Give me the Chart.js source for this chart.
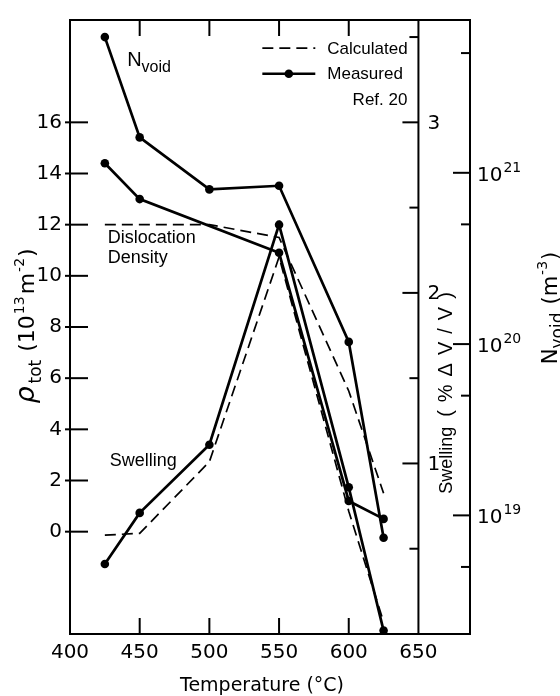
<!DOCTYPE html>
<html>
<head>
<meta charset="utf-8">
<script src="https://cdn.jsdelivr.net/npm/chart.js@4.4.0/dist/chart.umd.min.js"></script>
<style>
  html, body { margin: 0; padding: 0; background: #fff; }
</style>
</head>
<body>
<canvas id="chart" width="560" height="696"></canvas>
<script>
// temperature (°C)
const temps = [425, 450, 500, 550, 600, 625];
const tempsRho = [425, 450, 550, 600, 625];
// void number density N_void (m^-3), measured
const nVoidMeasured = [6.2e21, 1.61e21, 8.0e20, 8.4e20, 1.03e20, 7.4e18];
// dislocation density rho_tot (10^13 m^-2)
const rhoMeasured = [14.4, 13.0, 10.9, 1.2, 0.5];
const rhoCalculated = [12.0, 12.0, 12.0, 11.5, 5.5, 1.5];
// swelling (% dV/V)
const swellMeasured = [0.41, 0.71, 1.11, 2.40, 0.86, 0.02];
const swellCalculated = [0.58, 0.59, 1.01, 2.21, 0.72, 0.07];

// ticks
const tempTicks = [400, 450, 500, 550, 600, 650];
const rhoTicks = [0, 2, 4, 6, 8, 10, 12, 14, 16];
const swellTicks = [1, 2, 3];
const swellMinor = [0.5, 1.5, 2.5, 3.5];
const nVoidTicks = [1e19, 1e20, 1e21];
const nVoidExp = ['19', '20', '21'];
const nVoidMinor = [5e18, 5e19, 5e20, 5e21];

const NUM = '20px "DejaVu Sans"';
const TXT = '"Liberation Sans"';
const DJ = '"DejaVu Sans"';

function pts(xs, ys) {
  return xs.map((x, i) => ({x: x, y: ys[i]}));
}

function measured(data, axis) {
  return {data: data, yAxisID: axis, showLine: true, borderColor: '#000', borderWidth: 2.7,
    pointRadius: 4.3, pointBackgroundColor: '#000', pointBorderWidth: 0, tension: 0};
}
function calculated(data, axis) {
  return {data: data, yAxisID: axis, showLine: true, borderColor: '#000', borderWidth: 1.7,
    borderDash: [11, 6], pointRadius: 0, tension: 0};
}

function seg(ctx, x1, y1, x2, y2) {
  ctx.beginPath(); ctx.moveTo(x1, y1); ctx.lineTo(x2, y2); ctx.stroke();
}

// parts: [text, font, dy, gapAfter]
function rich(ctx, parts, x, y, angle, align) {
  ctx.save();
  ctx.translate(x, y);
  ctx.rotate(angle);
  ctx.textAlign = 'left';
  ctx.textBaseline = 'alphabetic';
  let total = 0;
  parts.forEach(p => { ctx.font = p[1]; total += ctx.measureText(p[0]).width + (p[3] || 0); });
  let cx = align === 'center' ? -total / 2 : 0;
  parts.forEach(p => {
    ctx.font = p[1];
    ctx.fillText(p[0], cx, p[2] || 0);
    cx += ctx.measureText(p[0]).width + (p[3] || 0);
  });
  ctx.restore();
}

const extras = {
  id: 'extras',
  afterDraw(chart) {
    const ctx = chart.ctx;
    const {left, right, top, bottom} = chart.chartArea;
    const sx = chart.scales.x, sy = chart.scales.y, ss = chart.scales.ySw, sn = chart.scales.yN;
    ctx.save();
    ctx.strokeStyle = '#000';
    ctx.fillStyle = '#000';
    ctx.lineWidth = 2;

    // top frame and inner swelling axis
    seg(ctx, left, top, right, top);
    const xs = sx.getPixelForValue(650);
    seg(ctx, xs, top, xs, bottom);

    // temperature ticks (bottom and top, pointing inwards)
    tempTicks.slice(1, -1).forEach(v => {
      const p = sx.getPixelForValue(v);
      seg(ctx, p, bottom, p, bottom - 16);
      seg(ctx, p, top, p, top + 16);
    });
    // rho ticks
    rhoTicks.forEach(v => {
      const p = sy.getPixelForValue(v);
      seg(ctx, left - 5, p, left + 18, p);
    });
    // swelling ticks and labels
    swellTicks.forEach(v => {
      const p = ss.getPixelForValue(v);
      seg(ctx, xs - 16, p, xs, p);
    });
    swellMinor.forEach(v => {
      const p = ss.getPixelForValue(v);
      seg(ctx, xs - 9, p, xs, p);
    });
    ctx.font = NUM;
    ctx.textAlign = 'left';
    ctx.textBaseline = 'middle';
    swellTicks.forEach(v => {
      ctx.fillText(String(v), xs + 9, ss.getPixelForValue(v) + 1);
    });
    // N_void ticks and labels
    nVoidTicks.forEach((v, i) => {
      const p = sn.getPixelForValue(v);
      seg(ctx, right - 17, p, right, p);
      rich(ctx, [['10', NUM, 0, 1], [nVoidExp[i], '14px ' + DJ, -9, 0]], right + 7, p + 8, 0, 'left');
    });
    nVoidMinor.forEach(v => {
      const p = sn.getPixelForValue(v);
      seg(ctx, right - 9, p, right, p);
    });

    // axis titles
    const F22 = '22px ' + DJ, S14 = '14px ' + DJ;
    rich(ctx, [['ρ', 'italic 27px ' + DJ, 0, 3], ['tot', '17px ' + DJ, 7, 8],
      ['(10', F22, 0, 1], ['13', S14, -10, 2], ['m', F22, 0, 1],
      ['-2', S14, -10, 1], [')', F22, 0, 0]], 34, 326, -Math.PI / 2, 'center');
    const sw = [['Swelling', '18px ' + TXT, 0, 10]];
    ['(', '%', 'Δ', 'V', '/', 'V', ')'].forEach((c, i) => sw.push([c, '20px ' + TXT, 0, i < 6 ? 8 : 0]));
    rich(ctx, sw, 452, 393, -Math.PI / 2, 'center');
    rich(ctx, [['N', '21px ' + DJ, 0, 0], ['void', '17px ' + DJ, 6, 8], ['(m', '21px ' + DJ, 0, 1],
      ['-3', S14, -10, 1], [')', '21px ' + DJ, 0, 0]], 557, 308, -Math.PI / 2, 'center');
    rich(ctx, [['Temperature (°C)', '19px ' + DJ, 0, 0]], 262, 691, 0, 'center');

    // legend
    const lx0 = sx.getPixelForValue(538), lx1 = sx.getPixelForValue(576);
    const ly1 = sy.getPixelForValue(18.9), ly2 = sy.getPixelForValue(17.9);
    ctx.lineWidth = 1.7;
    ctx.setLineDash([11, 6]);
    seg(ctx, lx0, ly1, lx1, ly1);
    ctx.setLineDash([]);
    ctx.lineWidth = 2.7;
    seg(ctx, lx0, ly2, lx1, ly2);
    ctx.beginPath();
    ctx.arc((lx0 + lx1) / 2, ly2, 4.3, 0, Math.PI * 2);
    ctx.fill();
    ctx.font = '17px ' + TXT;
    ctx.textAlign = 'left';
    ctx.textBaseline = 'middle';
    ctx.fillText('Calculated', lx1 + 12, ly1 + 1);
    ctx.fillText('Measured', lx1 + 12, ly2 + 1);
    ctx.textAlign = 'right';
    ctx.fillText('Ref. 20', xs - 11, sy.getPixelForValue(16.9) + 1);

    // series annotations
    ctx.textAlign = 'left';
    ctx.textBaseline = 'alphabetic';
    rich(ctx, [['N', '20px ' + TXT, 0, 0], ['void', '16px ' + TXT, 6, 0]],
      sx.getPixelForValue(441), sy.getPixelForValue(18.2), 0, 'left');
    ctx.font = '18px ' + TXT;
    ctx.fillText('Dislocation', sx.getPixelForValue(427), sy.getPixelForValue(11.3));
    ctx.fillText('Density', sx.getPixelForValue(427), sy.getPixelForValue(10.5));
    ctx.fillText('Swelling', sx.getPixelForValue(428.5), sy.getPixelForValue(2.55));
    ctx.restore();
  }
};

new Chart(document.getElementById('chart'), {
  type: 'scatter',
  data: {
    datasets: [
      measured(pts(temps, nVoidMeasured), 'yN'),
      measured(pts(tempsRho, rhoMeasured), 'y'),
      calculated(pts(temps, rhoCalculated), 'y'),
      measured(pts(temps, swellMeasured), 'ySw'),
      calculated(pts(temps, swellCalculated), 'ySw')
    ]
  },
  options: {
    responsive: false,
    animation: false,
    layout: {padding: {top: 8, left: 0, right: 0, bottom: 0}},
    plugins: {legend: {display: false}, tooltip: {enabled: false}},
    scales: {
      x: {
        type: 'linear', position: 'bottom', min: 400, max: 687,
        afterBuildTicks: s => { s.ticks = tempTicks.map(v => ({value: v})); },
        afterFit: s => { s.height = 62; },
        grid: {display: false, drawTicks: false},
        border: {display: true, color: '#000', width: 2},
        ticks: {color: '#000', font: {family: 'DejaVu Sans', size: 20}, padding: 7, maxRotation: 0}
      },
      y: {
        type: 'linear', position: 'left', min: -4, max: 20,
        afterBuildTicks: s => { s.ticks = rhoTicks.map(v => ({value: v})); },
        afterFit: s => { s.width = 70; },
        grid: {display: false, drawTicks: false},
        border: {display: true, color: '#000', width: 2},
        ticks: {color: '#000', font: {family: 'DejaVu Sans', size: 20}, padding: 8}
      },
      ySw: {
        type: 'linear', position: 'right', min: 0, max: 3.6, display: false
      },
      yN: {
        type: 'logarithmic', position: 'right', min: 2.03e18, max: 7.8e21,
        afterBuildTicks: s => { s.ticks = nVoidTicks.map(v => ({value: v})); },
        afterFit: s => { s.width = 90; },
        grid: {display: false, drawTicks: false},
        border: {display: true, color: '#000', width: 2},
        ticks: {display: false}
      }
    }
  },
  plugins: [extras]
});
</script>
</body>
</html>
